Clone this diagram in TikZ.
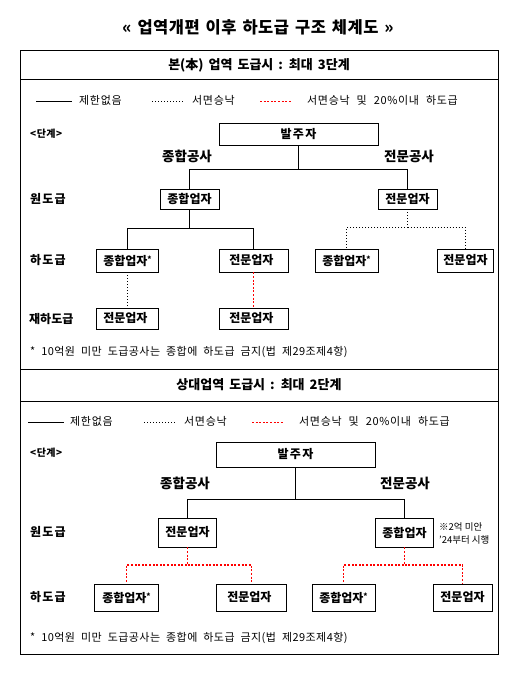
\documentclass[tikz,border=0pt]{standalone}
\usepackage{fontspec}
\setmainfont{Noto Sans CJK KR}
\newcommand\krws[1]{\spaceskip=#1\relax}
\newcommand\krst{\raisebox{2.5pt}{\fontsize{8}{8}\selectfont*}}
\begin{document}
\begin{tikzpicture}[x=1pt,y=-1pt,
  box/.style={draw,line width=0.9pt,inner sep=0pt,font=\bfseries\fontsize{12}{14}\selectfont},
  lbl/.style={font=\bfseries\fontsize{12}{14}\selectfont,anchor=west,inner sep=0pt},
  kind/.style={font=\bfseries\fontsize{13.5}{15}\selectfont,inner sep=0pt},
  leg/.style={font={\fontsize{11}{13}\selectfont\addfontfeature{LetterSpace=6}\krws{7pt}},anchor=west,inner sep=0pt},
  note/.style={font={\fontsize{11}{13}\selectfont\addfontfeature{LetterSpace=4}\krws{6pt}},anchor=west,inner sep=0pt},
  hdr/.style={font={\bfseries\fontsize{13}{15}\selectfont\krws{5pt}}},
  solid line/.style={line width=0.9pt},
  dotline/.style={line width=1pt,dash pattern=on 1pt off 2pt},
  reddot/.style={line width=1.5pt,dash pattern=on 2pt off 1.6pt,draw={rgb,255:red,255;green,0;blue,0}}
]
\useasboundingbox (0,0) rectangle (524,673);
% title
\node[font={\bfseries\fontsize{16.5}{18}\selectfont\addfontfeature{LetterSpace=3}\krws{6pt}}] (title) at (258,27) {<< 업역개편 이후 하도급 구조 체계도 >>};
% frame
\draw[line width=0.9pt] (20,50) rectangle (498,654);
\draw[line width=0.9pt] (20,79) -- (498,79);
\draw[line width=0.9pt] (20,369) -- (498,369);
\draw[line width=0.9pt] (20,401) -- (498,401);
\node[hdr] (h1) at (259,65) {본(本) 업역 도급시 : 최대 3단계};
\node[hdr] (h2) at (259,385) {상대업역 도급시 : 최대 2단계};

% ===== Panel 1 =====
\coordinate (l1a) at (36,101.5); \coordinate (l1b) at (72,101.5);
\draw[line width=1.5pt] (l1a) -- (l1b);
\node[leg] (t1a) at (79,100) {제한없음};
\coordinate (l1c) at (152,101.5); \coordinate (l1d) at (183,101.5);
\draw[dotline] (l1c) -- (l1d);
\node[leg] (t1b) at (192,100) {서면승낙};
\coordinate (l1e) at (260,101.5); \coordinate (l1f) at (292,101.5);
\draw[reddot] (l1e) -- (l1f);
\node[leg] (t1c) at (307,100) {서면승낙 및 20\%이내 하도급};

\node[lbl,font={\bfseries\fontsize{10}{12}\selectfont\addfontfeature{LetterSpace=5}}] (s1) at (30,134) {<단계>};
\node[lbl,font={\bfseries\fontsize{12}{14}\selectfont\addfontfeature{LetterSpace=10}}] (s2) at (30,199) {원도급};
\node[lbl,font={\bfseries\fontsize{12}{14}\selectfont\addfontfeature{LetterSpace=10}}] (s3) at (30,260) {하도급};
\node[lbl] (s4) at (29,319) {재하도급};

\node[box,minimum width=159pt,minimum height=22pt,font={\bfseries\fontsize{12}{14}\selectfont\addfontfeature{LetterSpace=12}}] (A0) at (298.5,134) {발주자};
\node[kind] (k1) at (187,156) {종합공사};
\node[kind] (k2) at (409,156) {전문공사};
\node[box,minimum width=59pt,minimum height=20pt] (A1) at (189.5,199) {종합업자};
\node[box,minimum width=59pt,minimum height=20pt] (A2) at (407.5,199) {전문업자};
\node[box,minimum width=62pt,minimum height=23pt] (B1) at (127.5,260.5) {종합업자\krst};
\node[box,minimum width=69pt,minimum height=23pt] (B2) at (253.5,260.5) {전문업자\phantom{\krst}};
\node[box,minimum width=63pt,minimum height=23pt] (B3) at (346.5,260.5) {종합업자\krst};
\node[box,minimum width=56pt,minimum height=23pt] (B4) at (465.5,260.5) {전문업자};
\node[box,minimum width=62pt,minimum height=21pt] (C1) at (127.5,318.5) {전문업자\phantom{\krst}};
\node[box,minimum width=69pt,minimum height=21pt] (C2) at (253.5,318.5) {전문업자\phantom{\krst}};

\draw[solid line] (A0.south) -- ++(0,23.5) -| (A1.north);
\draw[solid line] (A0.south) ++(0,23.5) -| (A2.north);
\draw[solid line] (A1.south) -- ++(0,18.5) -| (B1.north);
\draw[solid line] (A1.south) ++(0,18.5) -| (B2.north);
\draw[dotline] (A2.south) -- ++(0,18.5) -| (B3.north);
\draw[dotline] (A2.south) ++(0,18.5) -| (B4.north);
\draw[dotline] (B1.south) -- (C1.north);
\draw[reddot] (B2.south) -- (C2.north);

\node[note] (n1) at (30,352) {* 10억원 미만 도급공사는 종합에 하도급 금지(법 제29조제4항)};

% ===== Panel 2 =====
\coordinate (l2a) at (28,422.5); \coordinate (l2b) at (64,422.5);
\draw[line width=1.5pt] (l2a) -- (l2b);
\node[leg] (t2a) at (70,421) {제한없음};
\coordinate (l2c) at (144,422.5); \coordinate (l2d) at (176,422.5);
\draw[dotline] (l2c) -- (l2d);
\node[leg] (t2b) at (184,421) {서면승낙};
\coordinate (l2e) at (252,422.5); \coordinate (l2f) at (284,422.5);
\draw[reddot] (l2e) -- (l2f);
\node[leg] (t2c) at (299,421) {서면승낙 및 20\%이내 하도급};

\node[lbl,font={\bfseries\fontsize{10}{12}\selectfont\addfontfeature{LetterSpace=5}}] (u1) at (30,453) {<단계>};
\node[lbl,font={\bfseries\fontsize{12}{14}\selectfont\addfontfeature{LetterSpace=10}}] (u2) at (30,532) {원도급};
\node[lbl,font={\bfseries\fontsize{12}{14}\selectfont\addfontfeature{LetterSpace=10}}] (u3) at (30,597) {하도급};

\node[box,minimum width=159pt,minimum height=25pt,font={\bfseries\fontsize{12}{14}\selectfont\addfontfeature{LetterSpace=12}}] (P0) at (295.5,454.5) {발주자};
\node[kind] (m1) at (185,483) {종합공사};
\node[kind] (m2) at (405,483) {전문공사};
\node[box,minimum width=58pt,minimum height=29pt] (P1) at (187.5,532.5) {전문업자};
\node[box,minimum width=58pt,minimum height=29pt] (P2) at (404.5,532.5) {종합업자};
\node[font=\fontsize{9.5}{13}\selectfont,anchor=west,inner sep=0pt,align=left] (pn) at (439,533) {※2억 미안\\'24부터 시행};
\node[box,minimum width=64pt,minimum height=27pt] (Q1) at (126.5,597.5) {종합업자\krst};
\node[box,minimum width=70pt,minimum height=27pt] (Q2) at (251.5,597.5) {전문업자\phantom{\krst}};
\node[box,minimum width=63pt,minimum height=27pt] (Q3) at (343.5,597.5) {종합업자\krst};
\node[box,minimum width=59pt,minimum height=27pt] (Q4) at (462.5,597.5) {전문업자};

\draw[solid line] (P0.south) -- ++(0,31.5) -| (P1.north);
\draw[solid line] (P0.south) ++(0,31.5) -| (P2.north);
\draw[reddot] (P1.south) -- ++(0,17.5) -| (Q1.north);
\draw[reddot] (P1.south) ++(0,17.5) -| (Q2.north);
\draw[reddot] (P2.south) -- ++(0,17.5) -| (Q3.north);
\draw[reddot] (P2.south) ++(0,17.5) -| (Q4.north);

\node[note] (n2) at (30,638) {* 10억원 미만 도급공사는 종합에 하도급 금지(법 제29조제4항)};
\end{tikzpicture}
\end{document}
